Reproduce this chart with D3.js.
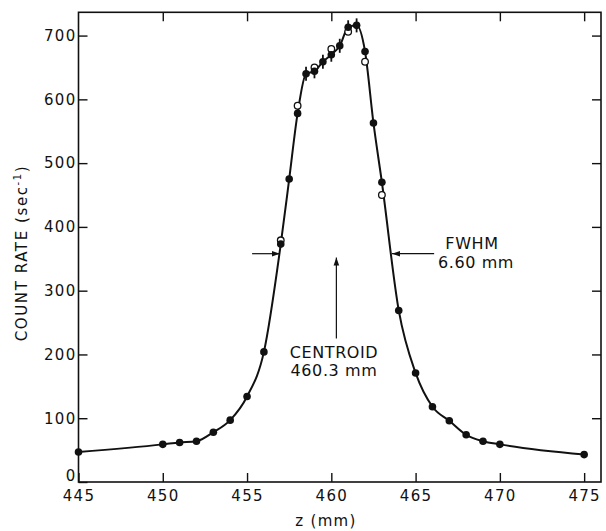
<!DOCTYPE html>
<meta charset="utf-8">
<head>
  <script src="https://d3js.org/d3.v7.min.js"></script>
  <style>
    body { margin: 0; background: white; }
    text { font-family: "DejaVu Sans", sans-serif; fill: #111; }
    .axis text { font-size: 15px; letter-spacing: 1.3px; }
    .axis path { display: none; }
    .axis line { stroke: #111; stroke-width: 1.4; }
  </style>
</head>
<body>
  <div id="chart"></div>
  <script>
    // filled points (z in mm, count rate)
    var filledZ = [445, 450, 451, 452, 453, 454, 455, 456, 457, 457.5, 458, 458.5, 459, 459.5,
      460, 460.5, 461, 461.5, 462, 462.5, 463, 464, 465, 466, 467, 468, 469, 470, 475];
    var filledRate = [47, 59, 62, 64, 78, 97, 134, 204, 373, 475, 578, 640, 644, 659,
      670, 684, 713, 716, 675, 563, 470, 269, 171, 118, 96, 74, 64, 59, 43];

    // open points
    var openZ = [457, 458, 459, 460, 461, 462, 463];
    var openRate = [379, 590, 650, 679, 706, 659, 450];

    // error bars near the peak
    var errZ = [458.5, 459, 459.5, 460, 460.5, 461, 461.5];
    var errRate = [640, 644, 659, 670, 684, 713, 716];
    var errSize = [11, 11, 11, 11, 11, 11, 11];

    var xTicks = [445, 450, 455, 460, 465, 470, 475];
    var yTicks = [0, 100, 200, 300, 400, 500, 600, 700];

    var W = 606, H = 531;
    var pLeft = 78.5, pRight = 601, pTop = 12.3, pBottom = 482;

    var svg = d3.select("#chart").append("svg")
      .attr("width", W).attr("height", H);

    var x = d3.scaleLinear().domain([445, 476]).range([pLeft, pRight]);
    var y = d3.scaleLinear().domain([0, 736.5]).range([pBottom, pTop]);

    // axes, ticks inward
    svg.append("g").attr("class", "axis")
      .attr("transform", "translate(0," + pBottom + ")")
      .call(d3.axisBottom(x).tickValues(xTicks).tickSizeInner(-9).tickSizeOuter(0).tickPadding(8)
        .tickFormat(d3.format("d")));

    var yAxis = svg.append("g").attr("class", "axis")
      .attr("transform", "translate(" + pLeft + ",0)")
      .call(d3.axisLeft(y).tickValues(yTicks).tickSizeInner(-9).tickSizeOuter(0).tickPadding(2));
    yAxis.selectAll(".tick").filter(d => d === 0).select("text").attr("dy", "-0.08em");

    svg.append("g").attr("class", "axis")
      .attr("transform", "translate(0," + pTop + ")")
      .call(d3.axisTop(x).tickValues(xTicks.slice(1)).tickSizeInner(-9).tickSizeOuter(0).tickFormat(""));

    svg.append("g").attr("class", "axis")
      .attr("transform", "translate(" + pRight + ",0)")
      .call(d3.axisRight(y).tickValues(yTicks.slice(1)).tickSizeInner(-9).tickSizeOuter(0).tickFormat(""));

    // frame
    svg.append("rect")
      .attr("x", pLeft).attr("y", pTop)
      .attr("width", pRight - pLeft).attr("height", pBottom - pTop)
      .attr("fill", "none").attr("stroke", "#111").attr("stroke-width", 1.6);

    // axis titles
    svg.append("text")
      .attr("x", 326).attr("y", 526)
      .attr("text-anchor", "middle")
      .style("font-size", "15px").style("letter-spacing", "1.3px")
      .text("z (mm)");

    var yt = svg.append("text")
      .attr("transform", "translate(27,253) rotate(-90)")
      .attr("text-anchor", "middle")
      .style("font-size", "15px").style("letter-spacing", "1.6px");
    yt.append("tspan").text("COUNT RATE (sec");
    yt.append("tspan").attr("dy", -6).style("font-size", "10px").text("-1");
    yt.append("tspan").attr("dy", 6).text(")");

    // fitted curve
    var pts = filledZ.map((z, i) => [z, filledRate[i]]);
    svg.append("path")
      .datum(pts)
      .attr("fill", "none").attr("stroke", "#111").attr("stroke-width", 2)
      .attr("d", d3.line().x(d => x(d[0])).y(d => y(d[1])).curve(d3.curveMonotoneX));

    // error bars
    svg.append("g").selectAll("line")
      .data(errZ.map((z, i) => ({ z: z, r: errRate[i], e: errSize[i] })))
      .join("line")
      .attr("x1", d => x(d.z)).attr("x2", d => x(d.z))
      .attr("y1", d => y(d.r - d.e)).attr("y2", d => y(d.r + d.e))
      .attr("stroke", "#111").attr("stroke-width", 1.8);

    // open points
    svg.append("g").selectAll("circle")
      .data(openZ.map((z, i) => [z, openRate[i]]))
      .join("circle")
      .attr("cx", d => x(d[0])).attr("cy", d => y(d[1])).attr("r", 3.3)
      .attr("fill", "white").attr("stroke", "#111").attr("stroke-width", 1.3);

    // filled points
    svg.append("g").selectAll("circle")
      .data(pts)
      .join("circle")
      .attr("cx", d => x(d[0])).attr("cy", d => y(d[1])).attr("r", 3.8)
      .attr("fill", "#111");

    // annotations
    var defs = svg.append("defs");
    defs.append("marker").attr("id", "ah")
      .attr("viewBox", "0 0 10 10").attr("refX", 10).attr("refY", 5)
      .attr("markerWidth", 8).attr("markerHeight", 8).attr("orient", "auto")
      .attr("markerUnits", "userSpaceOnUse")
      .append("path").attr("d", "M0,1.5 L10,5 L0,8.5 Z").attr("fill", "#111");

    function arrow(z1, r1, z2, r2) {
      svg.append("line")
        .attr("x1", x(z1)).attr("y1", y(r1)).attr("x2", x(z2)).attr("y2", y(r2))
        .attr("stroke", "#111").attr("stroke-width", 1.2)
        .attr("marker-end", "url(#ah)");
    }
    arrow(455.3, 358, 456.95, 358);
    arrow(466.1, 358, 463.6, 358);
    arrow(460.3, 225, 460.3, 352);

    function label(cx, cy, s) {
      svg.append("text").attr("x", cx).attr("y", cy)
        .attr("text-anchor", "middle")
        .style("font-size", "16px").style("letter-spacing", "0.6px")
        .text(s);
    }
    label(334, 358, "CENTROID");
    label(334, 376, "460.3 mm");
    label(472, 249, "FWHM");
    label(476, 268, "6.60 mm");
  </script>
</body>
</html>
